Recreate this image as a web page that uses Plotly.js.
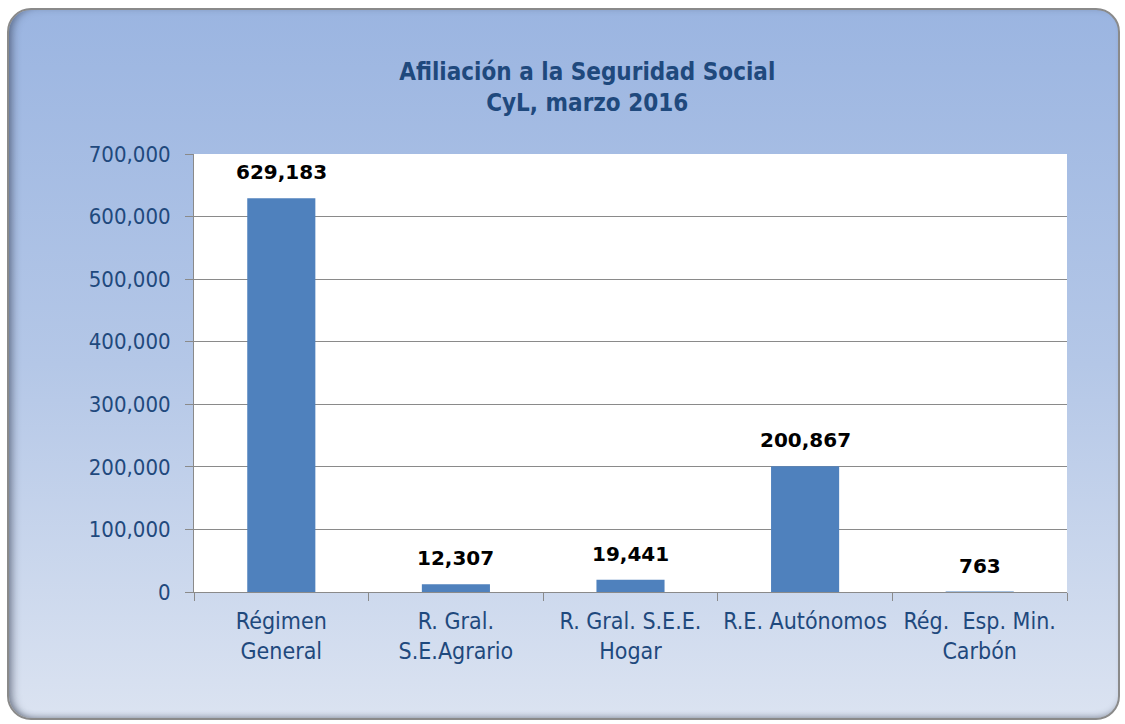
<!DOCTYPE html>
<html>
<head>
<meta charset="utf-8">
<script src="https://cdn.plot.ly/plotly-3.0.1.min.js"></script>
<style>
  html, body { margin: 0; padding: 0; background: #ffffff; width: 1125px; height: 724px; overflow: hidden; }
  #panel {
    position: absolute; left: 7px; top: 8px; width: 1113px; height: 712px;
    box-sizing: border-box;
    border: 2px solid #8a8a8a; border-radius: 24px;
    background: linear-gradient(to bottom, #9bb5e1 0%, #b4c7e7 50%, #dbe3f1 100%);
    box-shadow: inset 7px 0 8px -4px rgba(40,50,70,0.55), inset 0 -5px 6px -4px rgba(40,50,70,0.35);
  }
  #chart { position: absolute; left: 0; top: 0; width: 1125px; height: 724px; }
</style>
</head>
<body>
<div id="panel"></div>
<div id="chart"></div>
<script>
const categories = ["Régimen<br>General", "R. Gral.<br>S.E.Agrario", "R. Gral. S.E.E.<br>Hogar", "R.E. Autónomos", "Rég.\u00a0\u00a0Esp. Min.<br>Carbón"];
const values = [629183, 12307, 19441, 200867, 763];
const valueLabels = ["629,183", "12,307", "19,441", "200,867", "763"];
const titleText = "Afiliación a la Seguridad Social<br>CyL, marzo 2016";

const data = [{
  type: "bar",
  x: categories,
  y: values,
  marker: {color: "#4f81bd"},
  hoverinfo: "none"
}];

const annotations = categories.map((c, i) => ({
  x: c, y: values[i], xref: "x", yref: "y",
  text: valueLabels[i], showarrow: false,
  yanchor: "bottom", yshift: 12,
  font: {family: "DejaVu Sans", size: 20, color: "#000000", weight: "bold"}
}));

const layout = {
  width: 1125, height: 724,
  paper_bgcolor: "rgba(0,0,0,0)",
  plot_bgcolor: "#ffffff",
  margin: {l: 194, r: 58, t: 154, b: 132},
  showlegend: false,
  bargap: 0.61,
  title: {
    text: titleText,
    x: 0.522, xanchor: "center", y: 0.89, yanchor: "middle",
    font: {family: "DejaVu Sans Condensed", size: 24, color: "#1f497d", weight: "bold"}
  },
  xaxis: {
    type: "category",
    tickson: "boundaries",
    ticks: "outside", ticklen: 8, tickcolor: "#8a8a8a", tickwidth: 1,
    showline: true, linecolor: "#8a8a8a", linewidth: 1,
    showgrid: false,
    tickfont: {family: "DejaVu Sans Condensed", size: 23, color: "#1f497d"},
    ticklabelstandoff: 8,
    tickangle: 0,
    automargin: false
  },
  yaxis: {
    range: [0, 700000], dtick: 100000, tick0: 0,
    tickformat: ",d",
    ticks: "outside", ticklen: 8, tickcolor: "#8a8a8a", tickwidth: 1,
    showline: true, linecolor: "#8a8a8a", linewidth: 1,
    showgrid: true, gridcolor: "#8a8a8a", gridwidth: 1,
    zeroline: false,
    tickfont: {family: "DejaVu Sans Condensed", size: 22, color: "#1f497d"},
    ticklabelstandoff: 10,
    automargin: false
  },
  annotations: annotations,
  font: {family: "DejaVu Sans Condensed"}
};

Plotly.newPlot("chart", data, layout, {displayModeBar: false, staticPlot: true});
</script>
</body>
</html>
